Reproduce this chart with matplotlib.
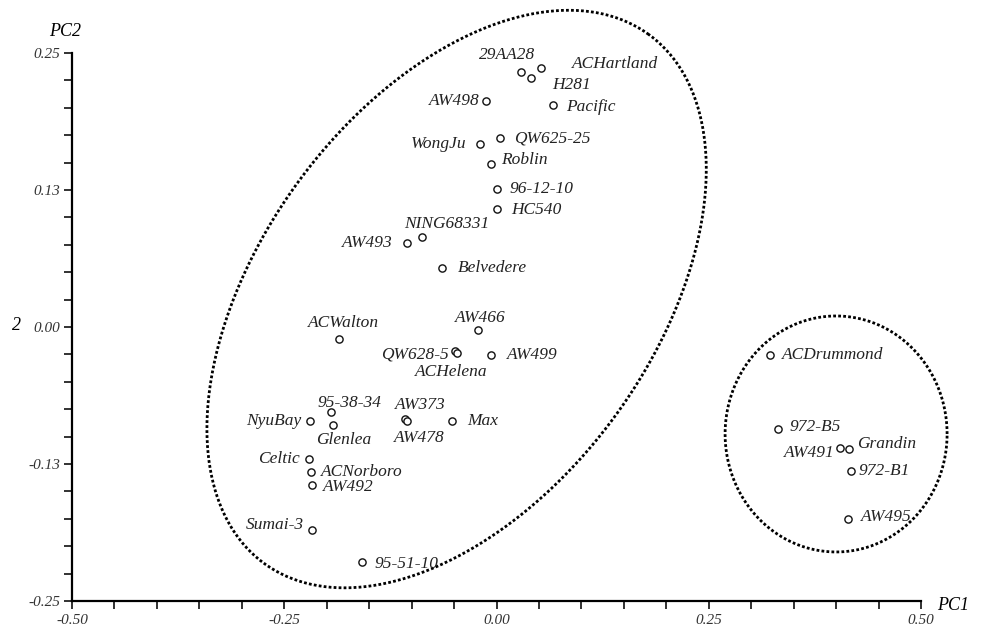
import numpy as np
import matplotlib
matplotlib.use("Agg")
import matplotlib.pyplot as plt
from matplotlib.ticker import FixedLocator, MultipleLocator

# ---- data ----
names = ["29AA28", "ACHartland", "H281", "AW498", "Pacific", "WongJu", "QW625-25",
         "Roblin", "96-12-10", "HC540", "NING68331", "AW493", "Belvedere", "AW466",
         "ACWalton", "QW628-5", "ACHelena", "AW499", "95-38-34", "Glenlea", "NyuBay",
         "AW373", "AW478", "Max", "Celtic", "ACNorboro", "AW492", "Sumai-3", "95-51-10",
         "ACDrummond", "972-B5", "AW491", "Grandin", "972-B1", "AW495"]
pc1 = [0.029, 0.052, 0.041, -0.012, 0.066, -0.020, 0.004,
       -0.007, 0.001, 0.001, -0.088, -0.106, -0.064, -0.022,
       -0.185, -0.049, -0.046, -0.007, -0.195, -0.192, -0.220,
       -0.108, -0.106, -0.052, -0.221, -0.219, -0.217, -0.217, -0.159,
       0.322, 0.331, 0.405, 0.415, 0.418, 0.414]
pc2 = [0.233, 0.236, 0.227, 0.206, 0.203, 0.167, 0.172,
       0.149, 0.126, 0.108, 0.082, 0.077, 0.054, -0.003,
       -0.011, -0.022, -0.024, -0.026, -0.078, -0.089, -0.086,
       -0.084, -0.086, -0.086, -0.120, -0.132, -0.144, -0.185, -0.214,
       -0.026, -0.093, -0.110, -0.111, -0.131, -0.175]

x_ticks = [-0.50, -0.25, 0.00, 0.25, 0.50]
x_ticklabels = ["-0.50", "-0.25", "0.00", "0.25", "0.50"]
y_ticks = [-0.25, -0.125, 0.0, 0.125, 0.25]
y_ticklabels = ["-0.25", "-0.13", "0.00", "0.13", "0.25"]

# ---- label placement (pixel offsets from the point, ha) ----
place = {
    "29AA28": (-14, 17, "center"), "ACHartland": (31, 4, "left"), "H281": (21, -7, "left"),
    "AW498": (-7, 0, "right"), "Pacific": (14, -2, "left"), "WongJu": (-13, 0, "right"),
    "QW625-25": (14, 0, "left"), "Roblin": (11, 4, "left"), "96-12-10": (12, 0, "left"),
    "HC540": (14, -1, "left"), "NING68331": (-18, 13, "left"), "AW493": (-14, 0, "right"),
    "Belvedere": (16, 0, "left"), "AW466": (3, 12, "center"), "ACWalton": (4, 16, "center"),
    "QW628-5": (-6, -3, "right"), "ACHelena": (-6, -19, "center"), "AW499": (16, 0, "left"),
    "95-38-34": (19, 9, "center"), "Glenlea": (10, -15, "center"), "NyuBay": (-8, 0, "right"),
    "AW373": (16, 14, "center"), "AW478": (13, -17, "center"), "Max": (15, 0, "left"),
    "Celtic": (-9, 0, "right"), "ACNorboro": (10, 0, "left"), "AW492": (11, -2, "left"),
    "Sumai-3": (-8, 5, "right"), "95-51-10": (13, -2, "left"), "ACDrummond": (12, 0, "left"),
    "972-B5": (12, 2, "left"), "AW491": (-6, -5, "right"), "Grandin": (8, 5, "left"),
    "972-B1": (7, 0, "left"), "AW495": (13, 2, "left"),
}

W, H = 983, 632
fig = plt.figure(figsize=(W / 100, H / 100), dpi=100)
ax = fig.add_axes([72 / W, (H - 601) / H, (921 - 72) / W, (601 - 53) / H])
ax.set_xlim(-0.5, 0.5)
ax.set_ylim(-0.25, 0.25)

serif = "Liberation Serif"
fi = dict(family=serif, style="italic")

for s in ["top", "right"]:
    ax.spines[s].set_visible(False)
for s in ["left", "bottom"]:
    ax.spines[s].set_linewidth(1.6)

ax.xaxis.set_major_locator(FixedLocator(x_ticks))
ax.xaxis.set_minor_locator(MultipleLocator(0.05))
ax.yaxis.set_major_locator(FixedLocator(y_ticks))
ax.yaxis.set_minor_locator(MultipleLocator(0.025))
ax.set_xticklabels(x_ticklabels, fontdict=dict(fontsize=11, **fi))
ax.set_yticklabels(y_ticklabels, fontdict=dict(fontsize=11, **fi))
ax.tick_params(which="both", direction="out", length=5.5, width=1.3, color="#222222")
ax.tick_params(axis="x", pad=4)
ax.tick_params(axis="y", pad=3)
for lab in ax.get_xticklabels() + ax.get_yticklabels():
    lab.set_color("#333333")

ax.plot(pc1, pc2, linestyle="none", marker="o", markersize=5.2, markerfacecolor="white",
        markeredgecolor="#111111", markeredgewidth=1.0, clip_on=False, zorder=3)

for n, x, y in zip(names, pc1, pc2):
    dx, dy, ha = place[n]
    ax.annotate(n, (x, y), xytext=(dx, dy), textcoords="offset pixels", ha=ha, va="center",
                fontsize=12.5, color="#222222", **fi)

# dotted group ellipses (defined in display space, mapped back to data)
fig.canvas.draw()
def dotted_ellipse(cx, cy, a, b, ang):
    t = np.linspace(0, 2 * np.pi, 600)
    c0 = ax.transData.transform((cx, cy))
    th = np.deg2rad(ang)
    u, v = a * np.cos(t), b * np.sin(t)
    px = c0[0] + u * np.cos(th) - v * np.sin(th)
    py = c0[1] + u * np.sin(th) + v * np.cos(th)
    d = ax.transData.inverted().transform(np.column_stack([px, py]))
    ax.plot(d[:, 0], d[:, 1], color="black", linewidth=2.0, linestyle=(0, (1.0, 0.8)),
            dash_capstyle="butt", clip_on=False, zorder=2)

dotted_ellipse(-0.047, 0.0255, 327, 197, 54)
dotted_ellipse(0.400, -0.0976, 111, 118, 0)

fig.text(65 / W, 1 - 32 / H, "PC2", ha="center", va="center", fontsize=13, **fi)
fig.text(937 / W, 1 - 605 / H, "PC1", ha="left", va="center", fontsize=13, **fi)
fig.text(16 / W, 1 - 325 / H, "2", ha="center", va="center", fontsize=13, **fi)

fig.savefig("out.png", dpi=100)
